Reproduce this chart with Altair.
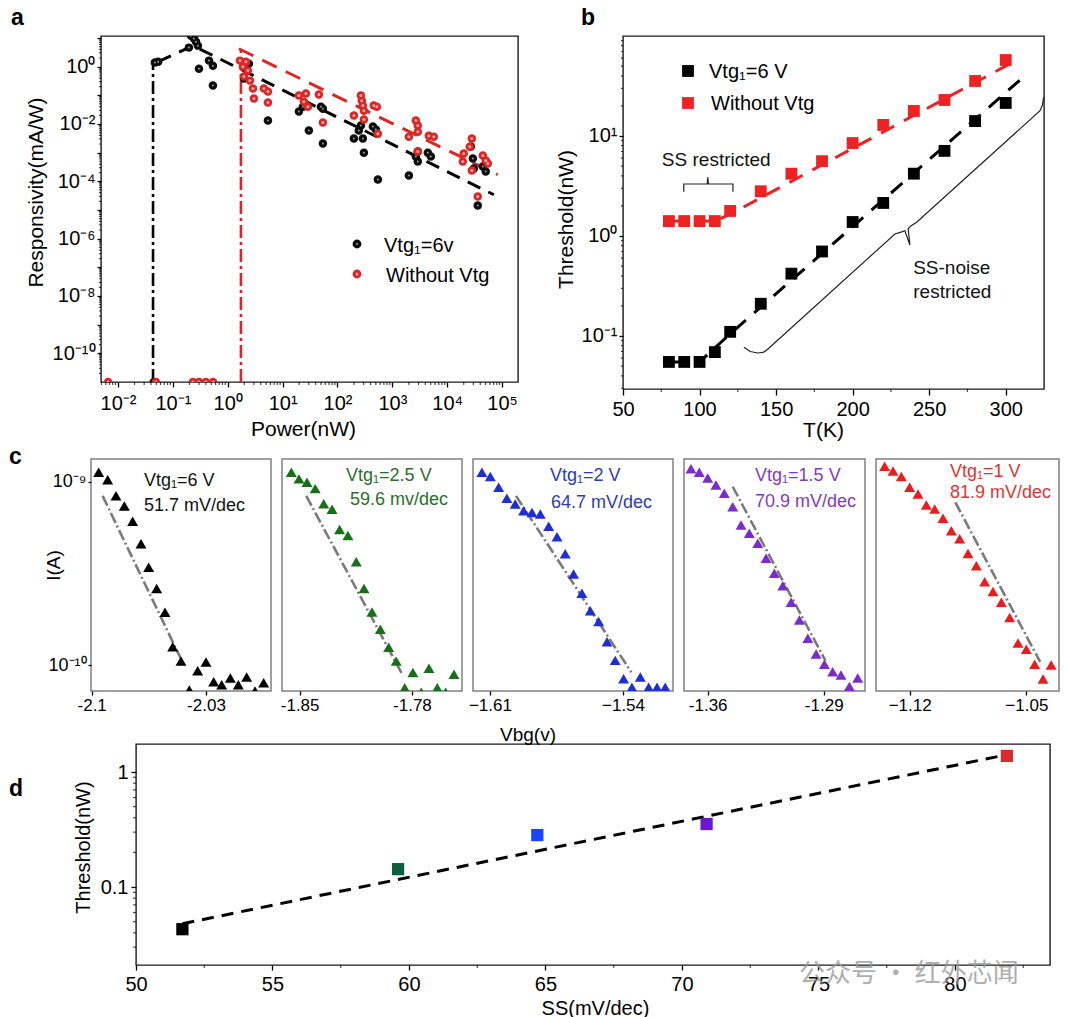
import altair as alt
import pandas as pd

FONT = "Liberation Sans"
CJK = "Noto Sans CJK SC"

# ---------------- Panel a : responsivity vs power ----------------
a_black_x = [0.047, 0.054, 0.214, 0.242, 0.264, 0.286, 0.196, 0.299, 0.455, 0.537, 0.537, 1.97, 2.43,
             5.4, 19.8, 23.4, 27.7, 30.1, 49.9, 54.2, 54.2, 199, 290, 245, 267, 303, 442, 500, 545,
             2000, 2680, 2910, 2910, 4430, 5030, 26900, 29300, 30500, 44500, 50400, 36000]
a_black_y = [1.38, 1.49, 12.0, 9.5, 7.4, 5.4, 4.6, 0.85, 1.62, 1.08, 0.218, 0.382, 1.27,
             0.0131, 0.027, 0.040, 0.044, 0.0059, 0.040, 0.034, 0.0021, 0.0031, 0.0031, 0.0059, 0.0088, 0.0010,
             0.0081, 0.0064, 1.16e-4, 1.59e-4, 7.3e-4, 4.9e-4, 1.09e-3, 1.0e-3, 7.3e-4, 1.63e-3, 6.2e-4,
             2.8e-4, 3.3e-4, 2.2e-4, 1.44e-5]
a_red_x = [1.67, 2.15, 1.89, 2.33, 1.97, 2.54, 2.88, 3.0, 4.56, 5.4, 5.4, 19.8, 26.6, 24.4, 28.9, 45.8,
           54.2, 267, 278, 290, 303, 460, 522, 199, 303, 545, 2680, 2910, 2910, 2000, 4620, 5700, 2910,
           28100, 25800, 20000, 19200, 28100, 44500, 50400, 55000, 36000]
a_red_y = [1.62, 1.49, 1.0, 0.73, 0.45, 0.325, 0.171, 0.077, 0.171, 0.135, 0.056, 0.098, 0.115, 0.060,
           0.040, 0.106, 0.0112, 0.098, 0.065, 0.044, 0.029, 0.044, 0.040, 0.0196, 0.0142, 0.0046, 0.0131,
           0.0088, 0.0054, 0.0036, 0.0039, 0.0036, 0.0011, 0.0031, 0.0016, 9.3e-4, 4.9e-4, 2.4e-4, 7.9e-4,
           5.3e-4, 4.2e-4, 2.95e-5]
a_floor = 1e-11
a_floor_black_x = [0.045]
a_floor_red_x = [0.0066, 0.049, 0.232, 0.30, 0.40, 0.54]
a_bfit_x = [0.054, 0.232, 70800]
a_bfit_y = [1.49, 5.4, 3.4e-5]
a_rfit_x = [1.6, 83000]
a_rfit_y = [4.2, 1.7e-4]
a_vline_black = [0.0435, 1.3]
a_vline_red = [1.74, 3.7]
a_legend = ["Vtg₁=6v", "Without Vtg"]

# ---------------- Panel b : threshold vs temperature ----------------
b_T = [80, 90, 100, 110, 120, 140, 160, 180, 200, 220, 240, 260, 280, 300]
b_black = [0.055, 0.055, 0.055, 0.069, 0.11, 0.21, 0.42, 0.70, 1.38, 2.14, 4.2, 7.1, 14.1, 21.4]
b_red = [1.41, 1.41, 1.41, 1.41, 1.78, 2.8, 4.2, 5.6, 8.5, 12.9, 17.8, 22.9, 35.5, 57.5]
b_bfit_x = [80, 100, 120, 310]
b_bfit_y = [0.055, 0.055, 0.105, 37]
b_rfit_x = [80, 110, 120, 302]
b_rfit_y = [1.41, 1.41, 1.65, 52]
b_brace1_x = [89.7, 89.7, 105.0, 105.4, 105.8, 121.8, 121.8]
b_brace1_y = [2.77, 3.31, 3.31, 3.86, 3.31, 3.31, 2.77]
b_brace2_x = [129.0, 133.0, 138.2, 142.0, 144.7, 227.6, 232.0, 234.1, 237.4, 236.3, 238.0, 241.8, 322.4, 324.0, 324.7]
b_brace2_y = [0.0771, 0.0700, 0.0676, 0.0690, 0.0741, 1.047, 1.10, 1.13, 0.813, 1.175, 1.26, 1.37, 17.9, 20.5, 24.4]
b_notes = ["SS restricted", "SS-noise", "restricted"]
b_notes_x = [110.9, 264.7, 265.1]
b_notes_y = [5.75, 0.475, 0.273]
b_legend = ["Vtg₁=6 V", "Without Vtg"]

# ---------------- Panel c : transfer curves ----------------
c1_x = [-2.0957, -2.0902, -2.0851, -2.0800, -2.0749, -2.0698, -2.0651, -2.0602, -2.0551, -2.0504, -2.0453,
        -2.0402, -2.0351, -2.0300, -2.0253, -2.0204, -2.0151, -2.0102, -2.0051, -2.0000, -1.9947]
c1_y = [1.13e-9, 1.03e-9, 8.4e-10, 7.4e-10, 6.1e-10, 4.6e-10, 3.42e-10, 2.62e-10, 1.94e-10, 1.26e-10, 1.05e-10,
        7.3e-11, 9.3e-11, 1.04e-10, 8.1e-11, 7.8e-11, 8.5e-11, 7.8e-11, 8.6e-11, 7.2e-11, 8.0e-11]
c2_x = [-1.8552, -1.8504, -1.8454, -1.8403, -1.8350, -1.8298, -1.8251, -1.8199, -1.8147, -1.8099, -1.8049,
        -1.7997, -1.7945, -1.7898, -1.7845, -1.7794, -1.7742, -1.7694, -1.7642, -1.7590, -1.7538]
c2_y = [1.13e-9, 1.04e-9, 9.96e-10, 9.2e-10, 7.6e-10, 7.1e-10, 5.5e-10, 5.1e-10, 3.67e-10, 2.62e-10, 1.95e-10,
        1.57e-10, 1.25e-10, 1.05e-10, 7.5e-11, 9.1e-11, 7.1e-11, 9.6e-11, 7.5e-11, 7.1e-11, 8.9e-11]
c3_x = [-1.6142, -1.6098, -1.6054, -1.6011, -1.5967, -1.5923, -1.5879, -1.5835, -1.5791, -1.5747, -1.5704,
        -1.5660, -1.5616, -1.5572, -1.5528, -1.5484, -1.5441, -1.5397, -1.5353, -1.5309, -1.5265, -1.5221, -1.5178]
c3_y = [1.13e-9, 1.07e-9, 9.35e-10, 8.15e-10, 7.59e-10, 6.97e-10, 6.82e-10, 6.68e-10, 5.73e-10, 5.02e-10,
        4.05e-10, 3.14e-10, 2.47e-10, 1.98e-10, 1.73e-10, 1.34e-10, 1.06e-10, 8.4e-11, 7.55e-11, 8.6e-11,
        7.55e-11, 7.55e-11, 7.55e-11]
c4_x = [-1.3701, -1.3651, -1.3600, -1.3550, -1.3500, -1.3449, -1.3399, -1.3349, -1.3298, -1.3248, -1.3198,
        -1.3147, -1.3097, -1.3047, -1.2996, -1.2946, -1.2896, -1.2846, -1.2796, -1.2745, -1.2695]
c4_y = [1.18e-9, 1.13e-9, 1.05e-9, 9.64e-10, 8.67e-10, 7.33e-10, 5.82e-10, 5.25e-10, 4.62e-10, 3.83e-10,
        3.17e-10, 2.71e-10, 2.20e-10, 1.76e-10, 1.40e-10, 1.15e-10, 1.01e-10, 9.18e-11, 8.81e-11, 7.64e-11, 8.49e-11]
c5_x = [-1.1350, -1.1300, -1.1250, -1.1200, -1.1150, -1.1100, -1.1050, -1.1000, -1.0950, -1.0900, -1.0850,
        -1.0800, -1.0750, -1.0700, -1.0650, -1.0600, -1.0550, -1.0500, -1.0450, -1.0400, -1.0351]
c5_y = [1.22e-9, 1.15e-9, 1.07e-9, 9.35e-10, 8.59e-10, 7.48e-10, 7.11e-10, 6.34e-10, 5.42e-10, 4.89e-10,
        4.07e-10, 3.49e-10, 2.85e-10, 2.52e-10, 2.20e-10, 1.82e-10, 1.32e-10, 1.22e-10, 1.01e-10, 8.38e-11, 1.0e-10]
c_fit_x = [[-2.0933, -2.0433], [-1.8459, -1.7856], [-1.5963, -1.5356], [-1.3449, -1.2890], [-1.0926, -1.0417]]
c_fit_y = [[8.4e-10, 9.9e-11], [8.4e-10, 8.75e-11], [8.4e-10, 9.12e-11], [9.42e-10, 1.057e-10], [7.74e-10, 1.04e-10]]
c_ticks = [[-2.1, -2.03], [-1.85, -1.78], [-1.61, -1.54], [-1.36, -1.29], [-1.12, -1.05]]
c_tick_labels = [["-2.1", "-2.03"], ["-1.85", "-1.78"], ["−1.61", "−1.54"], ["-1.36", "-1.29"], ["−1.12", "−1.05"]]
c_domains = [[-2.1004, -1.9902], [-1.8610, -1.7488], [-1.6189, -1.5137], [-1.3743, -1.2651], [-1.1402, -1.0304]]
c_vtg = ["Vtg₁=6 V", "Vtg₁=2.5 V", "Vtg₁=2 V", "Vtg₁=1.5 V", "Vtg₁=1 V"]
c_ss = ["51.7 mV/dec", "59.6 mv/dec", "64.7 mV/dec", "70.9 mV/dec", "81.9 mV/dec"]
c_marker_colors = ["#000000", "#177017", "#1d2fd4", "#7c2ccc", "#ec1c1c"]
c_text_colors = ["#111111", "#2b6e2b", "#2a3cba", "#8338c6", "#e23333"]
c_xtitle = "Vbg(v)"

# ---------------- Panel d : threshold vs SS ----------------
d_ss = [51.7, 59.6, 64.7, 70.9, 81.9]
d_th = [0.043, 0.143, 0.283, 0.353, 1.38]
d_names = ["6 V", "2.5 V", "2 V", "1.5 V", "1 V"]
d_colors = ["#000000", "#0b5e3e", "#1846ff", "#6a18c8", "#d62c2c"]
d_fit_x = [51.7, 82.0]
d_fit_y = [0.048, 1.43]
watermark = "公众号 · 红外芯闻"

# ---------------- helpers ----------------
SUP = {'-': '⁻', '0': '⁰', '1': '¹', '2': '²', '3': '³', '4': '⁴',
       '5': '⁵', '6': '⁶', '7': '⁷', '8': '⁸', '9': '⁹'}


def pow_label(e):
    return '10' + ''.join(SUP[c] for c in str(e))


def log_label_expr(exps, skip=()):
    s = "''"
    for e in exps:
        lab = '' if e in skip else pow_label(e)
        s = f"(round(log(datum.value)/LN10) == {e}) ? '{lab}' : " + s
    return s


def value_label_expr(vals, labs):
    s = "''"
    for v, l in zip(vals, labs):
        s = f"(abs(datum.value - ({v})) < 1e-6) ? '{l}' : " + s
    return s


AXC = dict(labelFont=FONT, titleFont=FONT, labelColor='black', titleColor='black', tickColor='black',
           tickWidth=1.3, domain=False, grid=False, labelFlush=False, labelOverlap=False,
           titleFontWeight='normal', titleBaseline='middle')


def one(**kw):
    return pd.DataFrame({k: [v] for k, v in kw.items()})


def text_layer(t, x, y, size, color='black', weight='normal', align='left', font=FONT, opacity=1.0):
    return alt.Chart(one(t=t)).mark_text(align=align, baseline='middle', fontSize=size, fontWeight=weight,
                                         color=color, font=font, opacity=opacity).encode(
        x=alt.value(x), y=alt.value(y), text='t:N')


def anchor(x, y):
    # invisible layout anchor (fixes the bounding box of a row)
    return alt.Chart(one(v=0)).mark_point(opacity=0, size=1, filled=True, strokeWidth=0).encode(
        x=alt.value(x), y=alt.value(y))


def spacer(w, h):
    return alt.Chart(one(v=0)).mark_point(opacity=0, size=1).encode(
        x=alt.X('v:Q', axis=None), y=alt.Y('v:Q', axis=None)).properties(
        width=w, height=h, view=alt.ViewBackground(strokeWidth=0, strokeOpacity=0))


def minor_x(vals, enc_x, h, size=3):
    return alt.Chart(pd.DataFrame({'v': vals})).mark_tick(orient='vertical', size=size, thickness=1.2,
                                                          color='black', clip=False).encode(
        x=enc_x('v'), y=alt.value(h + size / 2))


def minor_y(vals, enc_y, size=3):
    return alt.Chart(pd.DataFrame({'v': vals})).mark_tick(orient='horizontal', size=size, thickness=1.2,
                                                          color='black', clip=False).encode(
        y=enc_y('v'), x=alt.value(-size / 2))


# ================= Panel a =================
AW, AH = 417, 346
a_xs = alt.Scale(type='log', domain=[0.0049, 195000], nice=False)
a_ys = alt.Scale(type='log', domain=[1e-11, 11.7], nice=False)
a_xaxis = alt.Axis(values=[10.0 ** e for e in range(-2, 6)], labelExpr=log_label_expr(range(-2, 6)),
                   labelFontSize=20, tickSize=5, labelPadding=6, title='Power(nW)', titleFontSize=21,
                   titleX=202, titleY=47, **AXC)
a_yaxis = alt.Axis(values=[10.0 ** e for e in range(-10, 2)],
                   labelExpr=log_label_expr(range(-10, 2), skip=(-9, -7, -5, -3, -1, 1)),
                   labelFontSize=20, tickSize=4, labelPadding=2, title='Responsivity(mA/W)', titleFontSize=21,
                   titleX=-65, titleY=156, **AXC)


def XA(f):
    return alt.X(f, type='quantitative', scale=a_xs, axis=a_xaxis)


def YA(f):
    return alt.Y(f, type='quantitative', scale=a_ys, axis=a_yaxis)


a_minor_x_vals = [m * 10.0 ** d for d in range(-3, 6) for m in range(2, 10) if 0.0049 <= m * 10.0 ** d <= 195000]
a_minor_y_vals = [m * 10.0 ** d for d in range(-11, 2) for m in range(2, 10) if 1e-11 <= m * 10.0 ** d <= 11.7]


def dots(xv, yv, base, hl, hl_size):
    df = pd.DataFrame({'x': xv, 'y': yv})
    return [alt.Chart(df).mark_circle(size=72, color=base, opacity=1, clip=True).encode(x=XA('x'), y=YA('y')),
            alt.Chart(df).mark_circle(size=hl_size, color=hl, opacity=1, clip=True).encode(x=XA('x'), y=YA('y'))]


a_layers = [
    alt.Chart(one(x=a_vline_black[0], y0=a_floor, y1=a_vline_black[1])).mark_rule(
        color='black', strokeWidth=2.6, strokeDash=[13, 4, 3, 4], clip=True).encode(
        x=XA('x'), y=YA('y0'), y2='y1'),
    alt.Chart(one(x=a_vline_red[0], y0=a_floor, y1=a_vline_red[1])).mark_rule(
        color='#e02525', strokeWidth=2.6, strokeDash=[13, 4, 3, 4], clip=True).encode(
        x=XA('x'), y=YA('y0'), y2='y1'),
    alt.Chart(pd.DataFrame({'x': a_bfit_x, 'y': a_bfit_y})).mark_line(
        color='black', strokeWidth=3, strokeDash=[14, 9], clip=True).encode(x=XA('x'), y=YA('y')),
    alt.Chart(pd.DataFrame({'x': a_rfit_x, 'y': a_rfit_y})).mark_line(
        color='#e02525', strokeWidth=3, strokeDash=[16, 10], clip=True).encode(x=XA('x'), y=YA('y')),
]
a_layers += dots(a_black_x, a_black_y, '#0d0d0d', '#9a9a9a', 4)
a_layers += dots(a_floor_black_x, [a_floor] * len(a_floor_black_x), '#0d0d0d', '#9a9a9a', 4)
a_layers += dots(a_red_x, a_red_y, '#dc2626', '#f4a6a6', 9)
a_layers += dots(a_floor_red_x, [a_floor] * len(a_floor_red_x), '#dc2626', '#f4a6a6', 9)
a_layers += [
    minor_x(a_minor_x_vals, XA, AH, 3),
    minor_y(a_minor_y_vals, YA, 2),
    # legend
    alt.Chart(one(v=0)).mark_circle(size=78, color='#0d0d0d', opacity=1).encode(x=alt.value(256), y=alt.value(208)),
    alt.Chart(one(v=0)).mark_circle(size=4, color='#9a9a9a', opacity=1).encode(x=alt.value(256), y=alt.value(208)),
    alt.Chart(one(v=0)).mark_circle(size=78, color='#dc2626', opacity=1).encode(x=alt.value(256), y=alt.value(238)),
    alt.Chart(one(v=0)).mark_circle(size=9, color='#f4a6a6', opacity=1).encode(x=alt.value(256), y=alt.value(238)),
    text_layer(a_legend[0], 283, 210, 20),
    text_layer(a_legend[1], 285, 240, 20),
    text_layer('a', -90, -18, 23, weight='bold'),
    anchor(-94, -45),
    anchor(-94, 410),
]
chart_a = alt.layer(*a_layers).properties(width=AW, height=AH)

# ================= Panel b =================
BW, BH = 421, 353
b_xs = alt.Scale(domain=[50, 325], nice=False, zero=False)
b_ys = alt.Scale(type='log', domain=[0.0295, 100], nice=False)
b_xaxis = alt.Axis(values=[50, 100, 150, 200, 250, 300], labelFontSize=20, tickSize=6, labelPadding=4,
                   title='T(K)', titleFontSize=21, titleX=200, titleY=41, **AXC)
b_yaxis = alt.Axis(values=[0.1, 1, 10], labelExpr=log_label_expr([-1, 0, 1]), labelFontSize=20, tickSize=4,
                   labelPadding=2, title='Threshold(nW)', titleFontSize=21, titleX=-57, titleY=183, **AXC)


def XB(f):
    return alt.X(f, type='quantitative', scale=b_xs, axis=b_xaxis)


def YB(f):
    return alt.Y(f, type='quantitative', scale=b_ys, axis=b_yaxis)


b_minor_y_vals = [m * 10.0 ** d for d in range(-2, 2) for m in range(2, 10) if 0.0295 <= m * 10.0 ** d <= 100]
b_layers = [
    alt.Chart(pd.DataFrame({'x': b_bfit_x, 'y': b_bfit_y})).mark_line(
        color='black', strokeWidth=3, strokeDash=[15, 11], clip=True).encode(x=XB('x'), y=YB('y')),
    alt.Chart(pd.DataFrame({'x': b_rfit_x, 'y': b_rfit_y})).mark_line(
        color='#ee2222', strokeWidth=3, strokeDash=[15, 11], clip=True).encode(x=XB('x'), y=YB('y')),
    alt.Chart(pd.DataFrame({'x': b_T, 'y': b_black})).mark_square(
        size=140, color='black', opacity=1).encode(x=XB('x'), y=YB('y')),
    alt.Chart(pd.DataFrame({'x': b_T, 'y': b_red})).mark_square(
        size=140, color='#ee2222', opacity=1).encode(x=XB('x'), y=YB('y')),
    alt.Chart(pd.DataFrame({'x': b_brace1_x, 'y': b_brace1_y, 'i': list(range(len(b_brace1_x)))})).mark_line(
        color='#222222', strokeWidth=1.2).encode(x=XB('x'), y=YB('y'), order='i:Q'),
    alt.Chart(pd.DataFrame({'x': b_brace2_x, 'y': b_brace2_y, 'i': list(range(len(b_brace2_x)))})).mark_line(
        color='#222222', strokeWidth=1.2).encode(x=XB('x'), y=YB('y'), order='i:Q'),
    alt.Chart(pd.DataFrame({'x': b_notes_x, 'y': b_notes_y, 't': b_notes})).mark_text(
        fontSize=19, font=FONT, color='#111111', align='center', baseline='middle').encode(
        x=XB('x'), y=YB('y'), text='t:N'),
    minor_x([75, 125, 175, 225, 275], XB, BH, 3),
    minor_y(b_minor_y_vals, YB, 2),
    alt.Chart(one(v=0)).mark_square(size=140, color='black', opacity=1).encode(x=alt.value(65), y=alt.value(35)),
    alt.Chart(one(v=0)).mark_square(size=140, color='#ee2222', opacity=1).encode(x=alt.value(65), y=alt.value(67)),
    text_layer(b_legend[0], 86, 36, 20),
    text_layer(b_legend[1], 88, 68, 20),
    text_layer('b', -42, -18, 23, weight='bold'),
]
chart_b = alt.layer(*b_layers).properties(width=BW, height=BH)

# ================= Panel c =================
CH = 232
c_widths = [180, 180, 200, 181, 183]
c_xs_data = [c1_x, c2_x, c3_x, c4_x, c5_x]
c_ys_data = [c1_y, c2_y, c3_y, c4_y, c5_y]
c_t1_pos = [(53, 22), (64, 17), (77, 17), (71, 17), (74, 13)]
c_t2_pos = [(53, 47), (68, 41), (78, 44), (71, 43), (74, 34)]
c_ys = alt.Scale(type='log', domain=[7.21e-11, 1.3355e-9], nice=False)

c_charts = []
for k in range(5):
    xs = alt.Scale(domain=c_domains[k], nice=False, zero=False)
    xaxis = alt.Axis(values=c_ticks[k], labelExpr=value_label_expr(c_ticks[k], c_tick_labels[k]),
                     labelFontSize=17, tickSize=4, labelPadding=2, title=None, **AXC)
    if k == 0:
        yaxis = alt.Axis(values=[1e-9, 1e-10], labelExpr=log_label_expr([-9, -10]), labelFontSize=18,
                         tickSize=3, labelPadding=2, title='I(A)', titleFontSize=19, titleX=-38, titleY=106,
                         **AXC)
    else:
        yaxis = None

    def XC(f, xs=xs, xaxis=xaxis):
        return alt.X(f, type='quantitative', scale=xs, axis=xaxis)

    def YC(f, yaxis=yaxis):
        return alt.Y(f, type='quantitative', scale=c_ys, axis=yaxis)

    layers = [
        alt.Chart(pd.DataFrame({'x': c_fit_x[k], 'y': c_fit_y[k]})).mark_line(
            color='#7a7a7a', strokeWidth=2.6, strokeDash=[11, 3, 2, 3], clip=True).encode(x=XC('x'), y=YC('y')),
        alt.Chart(pd.DataFrame({'x': c_xs_data[k], 'y': c_ys_data[k]})).mark_point(
            shape='triangle-up', filled=True, size=120, color=c_marker_colors[k], opacity=1, clip=True).encode(
            x=XC('x'), y=YC('y')),
        text_layer(c_vtg[k], c_t1_pos[k][0], c_t1_pos[k][1], 18, color=c_text_colors[k]),
        text_layer(c_ss[k], c_t2_pos[k][0], c_t2_pos[k][1], 18, color=c_text_colors[k]),
    ]
    if k == 0:
        layers += [text_layer('c', -82, -2, 23, weight='bold'), anchor(-84, -33), anchor(-84, 265)]
    c_charts.append(alt.layer(*layers).properties(
        width=c_widths[k], height=CH, view=alt.ViewBackground(stroke='#808080', strokeWidth=1.5)))

# ================= Panel d =================
DW, DH = 914, 221
d_xs = alt.Scale(domain=[50, 83.48], nice=False, zero=False)
d_ys = alt.Scale(type='log', domain=[0.021, 1.752], nice=False)
d_xaxis = alt.Axis(values=[50, 55, 60, 65, 70, 75, 80], labelFontSize=20, tickSize=5, labelPadding=4,
                   title='SS(mV/dec)', titleFontSize=20, titleX=459, titleY=43, **AXC)
d_yaxis = alt.Axis(values=[0.1, 1], labelExpr=value_label_expr([0.1, 1], ['0.1', '1']), labelFontSize=20,
                   tickSize=5, labelPadding=3, title='Threshold(nW)', titleFontSize=20, titleX=-53, titleY=103,
                   **AXC)


def XD(f):
    return alt.X(f, type='quantitative', scale=d_xs, axis=d_xaxis)


def YD(f):
    return alt.Y(f, type='quantitative', scale=d_ys, axis=d_yaxis)


d_minor_y_vals = [m * 10.0 ** d for d in range(-2, 1) for m in range(2, 10) if 0.021 <= m * 10.0 ** d <= 1.752]
d_layers = [
    alt.Chart(pd.DataFrame({'x': d_fit_x, 'y': d_fit_y})).mark_line(
        color='black', strokeWidth=3, strokeDash=[12, 8]).encode(x=XD('x'), y=YD('y')),
    alt.Chart(pd.DataFrame({'x': d_ss, 'y': d_th, 'k': d_names})).mark_square(size=150, opacity=1).encode(
        x=XD('x'), y=YD('y'),
        color=alt.Color('k:N', scale=alt.Scale(domain=d_names, range=d_colors), legend=None)),
    minor_x([52.5, 57.5, 62.5, 67.5, 72.5, 77.5, 82.5], XD, DH, 3),
    minor_y(d_minor_y_vals, YD, 3),
    text_layer('d', -127, 45, 23, weight='bold'),
    text_layer(c_xtitle, 392, -9, 19, align='center'),
    text_layer(watermark, 663, 230, 26, color='#9a9a9a', font=CJK, opacity=0.8),
    anchor(-129, -40),
]
chart_d = alt.layer(*d_layers).properties(width=DW, height=DH)

# ================= Layout =================
row1 = alt.hconcat(spacer(10, 1), chart_a, spacer(105, 1), chart_b, spacing=0, bounds='flush')
row2 = alt.hconcat(*c_charts, spacing=11, bounds='flush')
row3 = alt.hconcat(spacer(45, 1), chart_d, spacing=0, bounds='flush')

chart = alt.vconcat(row1, row2, row3, spacing=-24).properties(
    padding={"top": -19, "left": -3, "right": 0, "bottom": 0}).configure(font=FONT).configure_view(
    stroke='#1a1a1a', strokeWidth=1.4)

chart.save("out.html", embed_options={"renderer": "svg", "actions": False})
